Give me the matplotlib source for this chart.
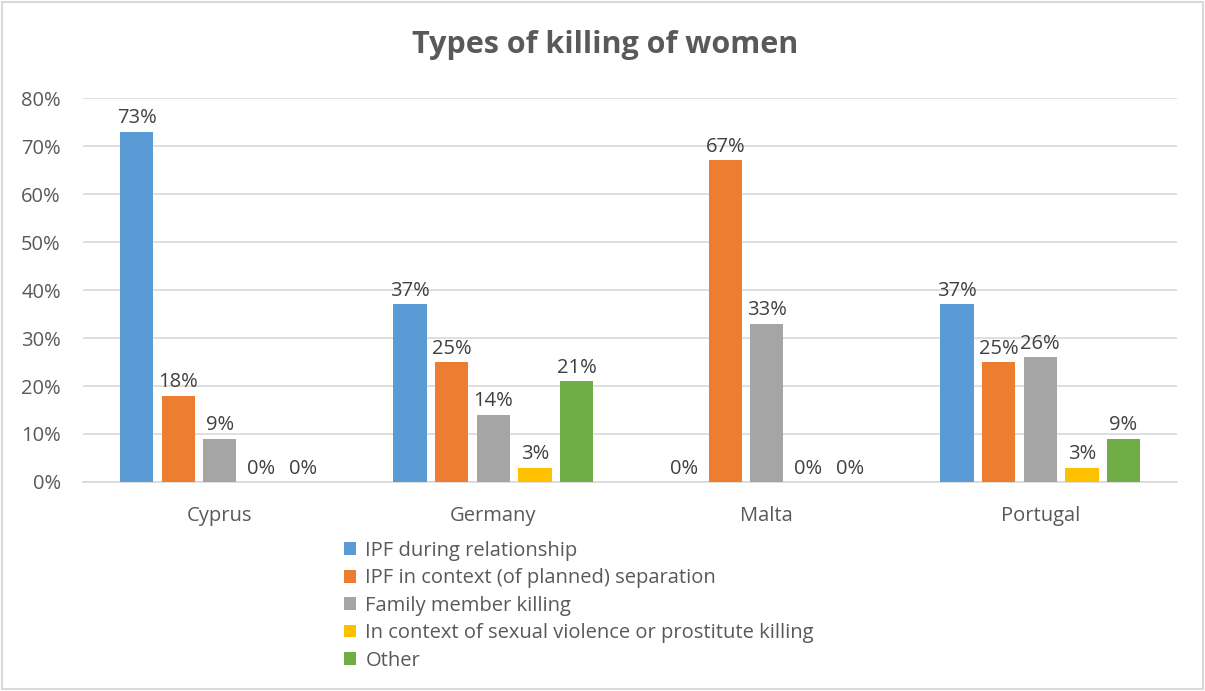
import matplotlib.pyplot as plt
import numpy as np
from matplotlib.patches import Rectangle

plt.rcParams['font.family'] = ['Open Sans', 'DejaVu Sans']

countries = ['Cyprus', 'Germany', 'Malta', 'Portugal']
series_names = ['IPF during relationship',
                'IPF in context (of planned) separation',
                'Family member killing',
                'In context of sexual violence or prostitute killing',
                'Other']
ipf_relationship = [73, 37, 0, 37]
ipf_separation = [18, 25, 67, 25]
family_member = [9, 14, 33, 26]
sexual_violence = [0, 3, 0, 3]
other = [0, 21, 0, 9]
colors = ['#5B9BD5', '#ED7D31', '#A5A5A5', '#FFC000', '#70AD47']

values = [ipf_relationship, ipf_separation, family_member, sexual_violence, other]

fig = plt.figure(figsize=(12.05, 6.91), dpi=100)
ax = fig.add_axes([0.0689, 0.3025, 0.9079, 0.5555])

x = np.arange(len(countries))
pitch = 0.152
width = 0.122
for i, (vals, name, c) in enumerate(zip(values, series_names, colors)):
    pos = x + (i - 2) * pitch
    ax.bar(pos, vals, width, color=c, label=name, zorder=3)
    for p, v in zip(pos, vals):
        ax.annotate(f'{v}%', (p, v), xytext=(0, 2.5), textcoords='offset points',
                    ha='center', va='bottom', fontsize=14.5, color='#404040')

ax.set_xlim(-0.5, 3.5)
ax.set_ylim(0, 80)
ax.set_yticks(range(0, 81, 10))
ax.set_yticklabels([f'{t}%' for t in range(0, 81, 10)])
ax.set_xticks(x)
ax.set_xticklabels(countries)
ax.tick_params(length=0, labelsize=14.5, labelcolor='#595959')
ax.tick_params(axis='x', pad=17)
ax.tick_params(axis='y', pad=16)
ax.grid(axis='y', color='#D9D9D9', linewidth=1.2, zorder=0)
for s in ['top', 'right', 'left']:
    ax.spines[s].set_visible(False)
ax.spines['bottom'].set_color('#D9D9D9')
ax.spines['bottom'].set_linewidth(1.2)

fig.text(0.502, 0.935, 'Types of killing of women', ha='center', va='center',
         fontsize=22, fontweight='bold', color='#595959')

fig.legend(loc='upper left', bbox_to_anchor=(0.279, 0.229), frameon=False,
           fontsize=14.5, handlelength=0.6, handleheight=0.6, handletextpad=0.45,
           labelspacing=0.37, labelcolor='#595959', borderaxespad=0)

fig.patches.append(Rectangle((0.002, 0.003), 0.996, 0.994, transform=fig.transFigure,
                             fill=False, edgecolor='#D9D9D9', linewidth=1.5))

fig.savefig('out.png', dpi=100)
